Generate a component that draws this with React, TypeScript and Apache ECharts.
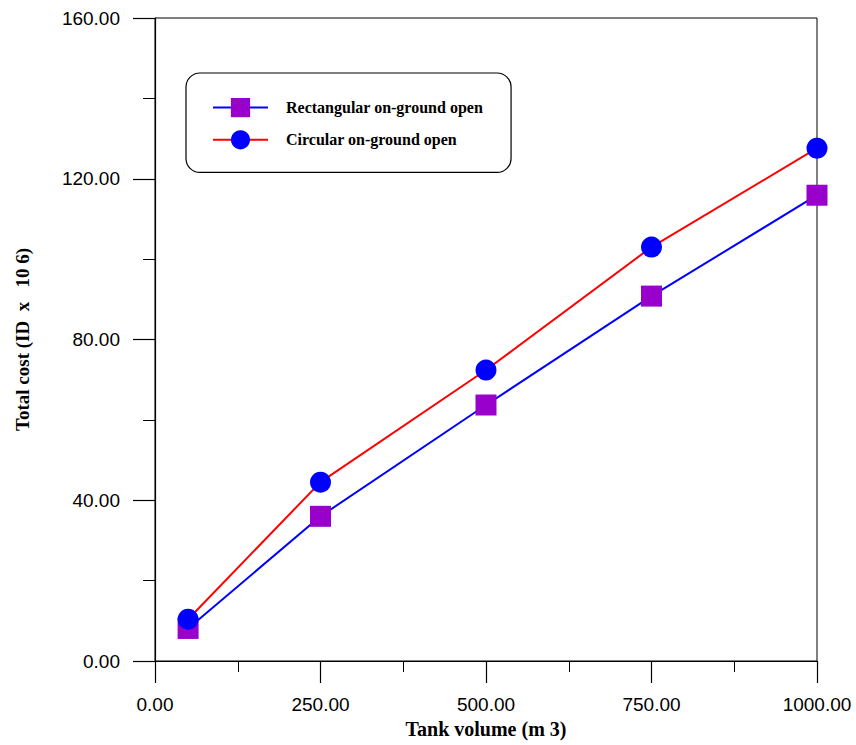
import React, { useEffect, useRef } from "react";
import * as echarts from "echarts";

// Tank volume (m³) at which each design was costed
const tankVolume = [50, 250, 500, 750, 1000];
// Total cost (ID × 10^6)
const rectangularCost = [8.1, 36.0, 63.7, 90.8, 115.9];
const circularCost = [10.4, 44.5, 72.4, 103.0, 127.6];

const seriesNames = ["Rectangular on-ground open", "Circular on-ground open"];

const xTitle = "Tank volume (m 3)";
const yTitle = "Total cost (ID  x   10 6)";

const SERIF = '"Liberation Serif", "Times New Roman", serif';
const SANS = '"Liberation Sans", Arial, sans-serif';

const pairs = (xs: number[], ys: number[]) => xs.map((x, i) => [x, ys[i]]);

export default function App() {
  const ref = useRef<HTMLDivElement>(null);

  useEffect(() => {
    if (!ref.current) return;
    const chart = echarts.init(ref.current, undefined, { renderer: "svg" });

    chart.setOption({
      animation: false,
      backgroundColor: "#ffffff",
      grid: {
        left: 155,
        right: 39,
        top: 18,
        height: 643,
        show: true,
        borderColor: "#000",
        borderWidth: 1,
      },
      legend: {
        orient: "vertical",
        left: 186,
        top: 73,
        itemWidth: 55,
        itemHeight: 24,
        itemGap: 13,
        padding: [25, 28, 23, 26],
        borderColor: "#000",
        borderWidth: 1.2,
        borderRadius: 14,
        backgroundColor: "#fff",
        data: seriesNames,
        textStyle: {
          fontFamily: SERIF,
          fontWeight: "bold",
          fontSize: 16,
          color: "#000",
          padding: [0, 0, 0, 13],
        },
      },
      xAxis: {
        type: "value",
        min: 0,
        max: 1000,
        interval: 250,
        name: xTitle,
        nameLocation: "middle",
        nameGap: 57,
        nameTextStyle: {
          fontFamily: SERIF,
          fontWeight: "bold",
          fontSize: 20,
          color: "#000",
        },
        axisLine: { lineStyle: { color: "#000", width: 1.2 } },
        axisTick: { length: 22, lineStyle: { color: "#000", width: 1.2 } },
        minorTick: { show: true, splitNumber: 2, length: 11, lineStyle: { color: "#000", width: 1 } },
        splitLine: { show: false },
        axisLabel: {
          margin: 34,
          fontFamily: SANS,
          fontSize: 19,
          color: "#000",
          formatter: (v: number) => v.toFixed(2),
        },
      },
      yAxis: {
        type: "value",
        min: 0,
        max: 160,
        interval: 40,
        name: yTitle,
        nameLocation: "middle",
        nameRotate: 90,
        nameGap: 123,
        nameTextStyle: {
          fontFamily: SERIF,
          fontWeight: "bold",
          fontSize: 19,
          color: "#000",
        },
        axisLine: { lineStyle: { color: "#000", width: 1.2 } },
        axisTick: { length: 22, lineStyle: { color: "#000", width: 1.2 } },
        minorTick: { show: true, splitNumber: 2, length: 12, lineStyle: { color: "#000", width: 1 } },
        splitLine: { show: false },
        axisLabel: {
          margin: 35,
          fontFamily: SANS,
          fontSize: 19,
          color: "#000",
          formatter: (v: number) => v.toFixed(2),
        },
      },
      series: [
        {
          name: seriesNames[0],
          type: "line",
          data: pairs(tankVolume, rectangularCost),
          symbol: "rect",
          symbolSize: 21,
          lineStyle: { color: "#0000ff", width: 2 },
          itemStyle: { color: "#9900cc", borderWidth: 0 },
          z: 2,
        },
        {
          name: seriesNames[1],
          type: "line",
          data: pairs(tankVolume, circularCost),
          symbol: "circle",
          symbolSize: 21,
          lineStyle: { color: "#ff0000", width: 2 },
          itemStyle: { color: "#0000ff", borderWidth: 0 },
          z: 3,
        },
      ],
    });

    return () => chart.dispose();
  }, []);

  return (
    <div
      ref={ref}
      style={{ position: "absolute", left: 0, top: 0, width: 856, height: 745 }}
    />
  );
}
